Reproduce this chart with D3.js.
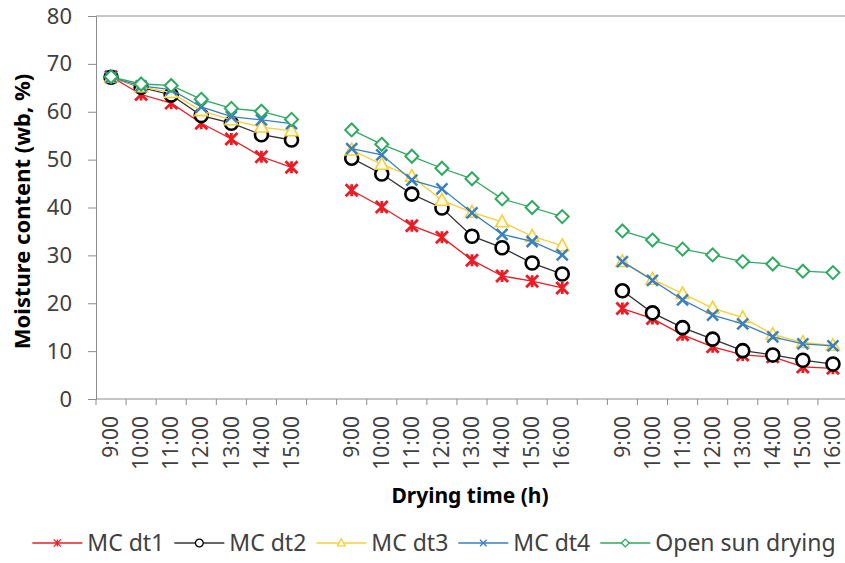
<!DOCTYPE html>
<html>
<head>
<meta charset="utf-8">
<script src="https://cdn.jsdelivr.net/npm/d3@7"></script>
<style>
  body { margin: 0; background: #fff; }
  text { font-family: "Noto Sans", sans-serif; fill: #404040; }
</style>
</head>
<body>
<svg id="chart"></svg>
<script>
// x categories: three drying days, an empty slot between days
const timeLabels = ["9:00", "10:00", "11:00", "12:00", "13:00", "14:00", "15:00", "",
  "9:00", "10:00", "11:00", "12:00", "13:00", "14:00", "15:00", "16:00", "",
  "9:00", "10:00", "11:00", "12:00", "13:00", "14:00", "15:00", "16:00"];

const seriesNames = ["MC dt1", "MC dt2", "MC dt3", "MC dt4", "Open sun drying"];

const mcDt1 = [67.3, 63.6, 61.8, 57.6, 54.3, 50.6, 48.4, null,
  43.6, 40.1, 36.2, 33.8, 29.0, 25.7, 24.6, 23.2, null,
  18.9, 16.8, 13.4, 10.9, 9.2, 8.8, 6.7, 6.4];
const mcDt2 = [67.2, 65.1, 63.5, 59.2, 57.6, 55.2, 54.1, null,
  50.3, 47.0, 42.8, 39.9, 34.0, 31.6, 28.4, 26.1, null,
  22.6, 18.0, 14.9, 12.5, 10.1, 9.2, 8.1, 7.3];
const mcDt3 = [67.2, 65.2, 64.0, 60.2, 58.3, 56.8, 56.0, null,
  52.0, 49.0, 46.5, 41.5, 39.0, 37.0, 34.0, 32.0, null,
  28.7, 25.0, 22.0, 19.0, 17.0, 13.5, 11.8, 11.2];
const mcDt4 = [67.2, 65.4, 64.6, 61.0, 59.0, 58.3, 57.5, null,
  52.3, 51.0, 45.7, 43.9, 38.9, 34.4, 32.9, 30.1, null,
  28.7, 24.8, 20.7, 17.5, 15.7, 13.0, 11.5, 11.1];
const openSun = [67.3, 65.8, 65.5, 62.6, 60.7, 60.1, 58.4, null,
  56.2, 53.2, 50.7, 48.2, 46.0, 41.8, 40.0, 38.1, null,
  35.1, 33.2, 31.3, 30.1, 28.7, 28.2, 26.7, 26.4];

const yTicks = [0, 10, 20, 30, 40, 50, 60, 70, 80];

// custom marker shapes (Excel style)
const starSym = { draw(ctx, size) { const r = Math.sqrt(size) / 2;
  ctx.moveTo(-r, -r); ctx.lineTo(r, r); ctx.moveTo(-r, r); ctx.lineTo(r, -r);
  ctx.moveTo(0, -r); ctx.lineTo(0, r); } };
const crossSym = { draw(ctx, size) { const r = Math.sqrt(size) / 2;
  ctx.moveTo(-r, -r); ctx.lineTo(r, r); ctx.moveTo(-r, r); ctx.lineTo(r, -r); } };
const diamondSym = { draw(ctx, size) { const r = Math.sqrt(size) / 2;
  ctx.moveTo(0, -r); ctx.lineTo(r, 0); ctx.lineTo(0, r); ctx.lineTo(-r, 0); ctx.closePath(); } };
const circleSym = { draw(ctx, size) { const r = Math.sqrt(size) / 2;
  ctx.moveTo(r, 0); ctx.arc(0, 0, r, 0, 2 * Math.PI); } };
const triSym = { draw(ctx, size) { const r = Math.sqrt(size) / 2;
  ctx.moveTo(0, -r * 1.05); ctx.lineTo(r, r * 0.75); ctx.lineTo(-r, r * 0.75); ctx.closePath(); } };

const styles = [
  { color: "#ec1c24", line: "#ec1c24", sym: starSym, d: 12, sw: 2.8, fill: "none" },
  { color: "#000000", line: "#333333", sym: circleSym, d: 13, sw: 2.6, fill: "#ffffff" },
  { color: "#f7cf3a", line: "#f7cf3a", sym: triSym, d: 13, sw: 1.6, fill: "#fffbe6" },
  { color: "#3a7fc1", line: "#3a7fc1", sym: crossSym, d: 11, sw: 2.5, fill: "none" },
  { color: "#2faa60", line: "#2faa60", sym: diamondSym, d: 13, sw: 2, fill: "#ffffff" }
];
const allSeries = [mcDt1, mcDt2, mcDt3, mcDt4, openSun];

const W = 845, H = 563;
const plot = { left: 96, right: 848, top: 16, bottom: 399 };

const svg = d3.select("#chart").attr("width", W).attr("height", H);

const x = d3.scaleBand().domain(d3.range(timeLabels.length))
  .range([plot.left, plot.right]).paddingInner(0).paddingOuter(0);
const y = d3.scaleLinear().domain([0, 80]).range([plot.bottom, plot.top]);

// top gridline at 80
svg.append("line")
  .attr("x1", plot.left).attr("x2", W)
  .attr("y1", y(80)).attr("y2", y(80))
  .attr("stroke", "#8c8c8c").attr("stroke-width", 1.2);

// y axis
const yAxis = svg.append("g")
  .attr("transform", `translate(${plot.left},0)`)
  .call(d3.axisLeft(y).tickValues(yTicks).tickSize(8).tickPadding(16));
yAxis.select(".domain").attr("stroke", "#8c8c8c");
yAxis.selectAll(".tick line").attr("stroke", "#8c8c8c");
yAxis.selectAll(".tick text").attr("font-size", 22).attr("fill", "#404040")
  .style("font-family", "'Noto Sans', sans-serif");

// x axis with ticks between categories
const xg = svg.append("g");
xg.append("line")
  .attr("x1", plot.left).attr("x2", W)
  .attr("y1", plot.bottom).attr("y2", plot.bottom)
  .attr("stroke", "#8c8c8c");
xg.selectAll(".xtick")
  .data(d3.range(timeLabels.length + 1))
  .join("line")
  .attr("x1", i => plot.left + i * x.bandwidth())
  .attr("x2", i => plot.left + i * x.bandwidth())
  .attr("y1", plot.bottom).attr("y2", plot.bottom + 6)
  .attr("stroke", "#8c8c8c");
xg.selectAll(".xlab")
  .data(timeLabels.map((t, i) => ({ t, i })).filter(d => d.t !== ""))
  .join("text")
  .attr("transform", d => `translate(${x(d.i) + x.bandwidth() / 2},${plot.bottom + 17}) rotate(-90)`)
  .attr("text-anchor", "end")
  .attr("dy", "0.34em")
  .attr("font-size", 21)
  .text(d => d.t);

// series
allSeries.forEach((vals, si) => {
  const st = styles[si];
  const pts = vals.map((v, i) => ({ i, v }));
  const line = d3.line()
    .defined(d => d.v !== null)
    .x(d => x(d.i) + x.bandwidth() / 2)
    .y(d => y(d.v));
  const g = svg.append("g");
  g.append("path")
    .datum(pts)
    .attr("fill", "none")
    .attr("stroke", st.line)
    .attr("stroke-width", 1.3)
    .attr("d", line);
  g.selectAll("path.mk")
    .data(pts.filter(d => d.v !== null))
    .join("path")
    .attr("class", "mk")
    .attr("transform", d => `translate(${x(d.i) + x.bandwidth() / 2},${y(d.v)})`)
    .attr("d", d3.symbol().type(st.sym).size(st.d * st.d))
    .attr("fill", st.fill)
    .attr("stroke", st.color)
    .attr("stroke-width", st.sw);
});

// axis titles
svg.append("text")
  .attr("x", (plot.left + plot.right) / 2 - 2)
  .attr("y", 503)
  .attr("text-anchor", "middle")
  .attr("font-size", 21)
  .attr("font-weight", "bold")
  .style("fill", "#000")
  .text("Drying time (h)");

svg.append("text")
  .attr("transform", `translate(30,${(70 + 353) / 2}) rotate(-90)`)
  .attr("text-anchor", "middle")
  .attr("font-size", 22)
  .attr("font-weight", "bold")
  .style("fill", "#000")
  .text("Moisture content (wb, %)");

// legend
const legend = svg.append("g");
const lineLen = 50, gapText = 5, gapItem = 10;
let cursor = 0;
seriesNames.forEach((name, i) => {
  const it = legend.append("g");
  const t = it.append("text")
    .attr("x", lineLen + gapText)
    .attr("y", 0)
    .attr("dy", "0.35em")
    .attr("font-size", 23)
    .text(name);
  const w = t.node().getComputedTextLength();
  const st = styles[i];
  it.append("line")
    .attr("x1", 0).attr("x2", lineLen)
    .attr("y1", 0).attr("y2", 0)
    .attr("stroke", st.line).attr("stroke-width", 1.3);
  it.append("path")
    .attr("transform", `translate(${lineLen / 2},0)`)
    .attr("d", d3.symbol().type(st.sym).size((st.d * 0.6) ** 2))
    .attr("fill", st.fill === "none" ? "none" : "#fff")
    .attr("stroke", st.color)
    .attr("stroke-width", 1.3);
  it.attr("transform", `translate(${cursor},0)`);
  cursor += lineLen + gapText + w + gapItem;
});
const total = cursor - gapItem;
legend.attr("transform", `translate(${434 - total / 2},543)`);
</script>
</body>
</html>
